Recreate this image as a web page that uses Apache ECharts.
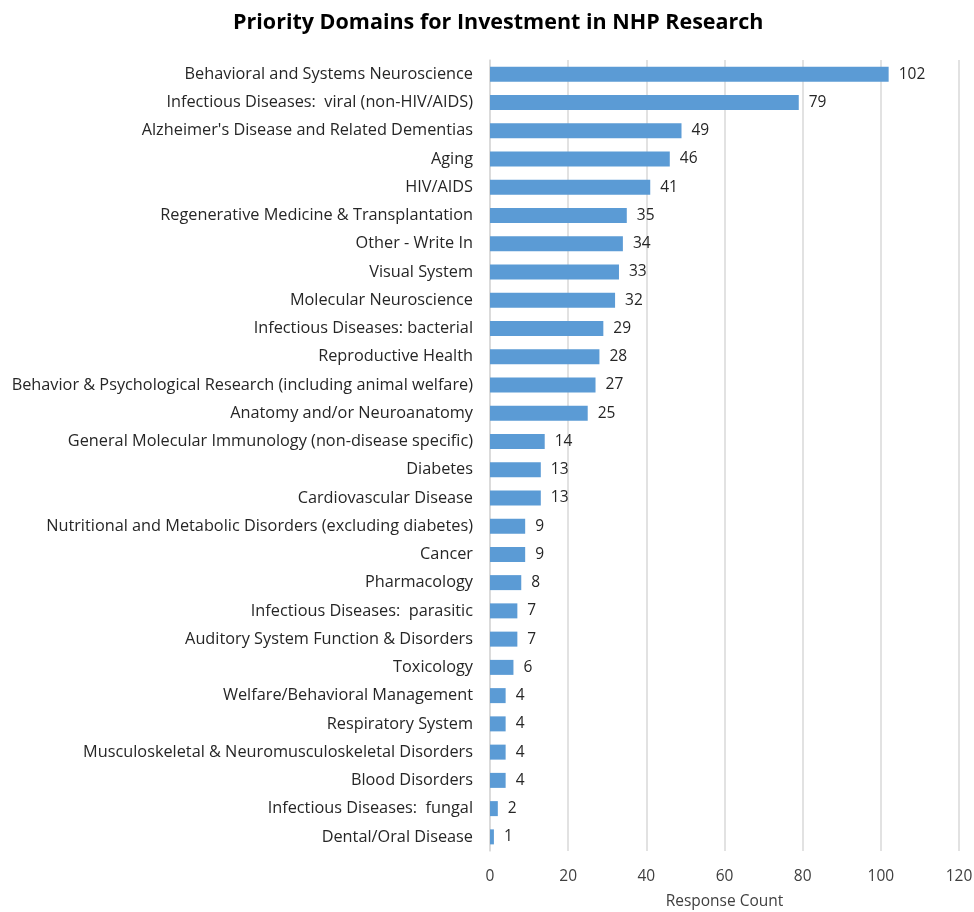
<!DOCTYPE html>
<html><head><meta charset="utf-8">
<script src="https://cdn.jsdelivr.net/npm/echarts@6/dist/echarts.min.js"></script>
<style>html,body{margin:0;padding:0;background:#fff}#c{width:974px;height:912px}</style>
</head><body><div id="c"></div>
<script>
const categories = [
"Behavioral and Systems Neuroscience",
"Infectious Diseases:  viral (non-HIV/AIDS)",
"Alzheimer's Disease and Related Dementias",
"Aging",
"HIV/AIDS",
"Regenerative Medicine & Transplantation",
"Other - Write In",
"Visual System",
"Molecular Neuroscience",
"Infectious Diseases: bacterial",
"Reproductive Health",
"Behavior & Psychological Research (including animal welfare)",
"Anatomy and/or Neuroanatomy",
"General Molecular Immunology (non-disease specific)",
"Diabetes",
"Cardiovascular Disease",
"Nutritional and Metabolic Disorders (excluding diabetes)",
"Cancer",
"Pharmacology",
"Infectious Diseases:  parasitic",
"Auditory System Function & Disorders",
"Toxicology",
"Welfare/Behavioral Management",
"Respiratory System",
"Musculoskeletal & Neuromusculoskeletal Disorders",
"Blood Disorders",
"Infectious Diseases:  fungal",
"Dental/Oral Disease"
];
const responseCounts = [102,79,49,46,41,35,34,33,32,29,28,27,25,14,13,13,9,9,8,7,7,6,4,4,4,4,2,1];
const xTicks = {min:0, max:120, interval:20};
const titleText = "Priority Domains for Investment in NHP Research";
const xAxisName = "Response Count";

const chart = echarts.init(document.getElementById('c'));
const font = "'Open Sans', sans-serif";
chart.setOption({
  animation:false,
  title:{text:titleText,left:228,top:7,
    textStyle:{fontFamily:font,fontSize:21.5,fontWeight:'bold',color:'#000'}},
  grid:{left:490,right:15,top:60,bottom:61,containLabel:false,outerBoundsMode:'none'},
  xAxis:{type:'value',min:xTicks.min,max:xTicks.max,interval:xTicks.interval,
    name:xAxisName,nameLocation:'middle',nameGap:43,
    nameTextStyle:{fontFamily:font,fontSize:15.5,color:'#404040'},
    axisLine:{show:false},axisTick:{show:false},
    axisLabel:{fontFamily:font,fontSize:15.5,color:'#404040',margin:18},
    splitLine:{show:true,lineStyle:{color:'#d9d9d9',width:1.5}}},
  yAxis:{type:'category',data:categories,inverse:true,
    axisLine:{show:true,lineStyle:{color:'#d9d9d9',width:1.5}},axisTick:{show:false},
    axisLabel:{fontFamily:font,fontSize:16.3,color:'#262626',margin:17}},
  series:[{type:'bar',data:responseCounts,barWidth:15,
    itemStyle:{color:'#5B9BD5'},
    label:{show:true,position:'right',distance:10,fontFamily:font,fontSize:15.5,color:'#262626'}}]
});
</script></body></html>
